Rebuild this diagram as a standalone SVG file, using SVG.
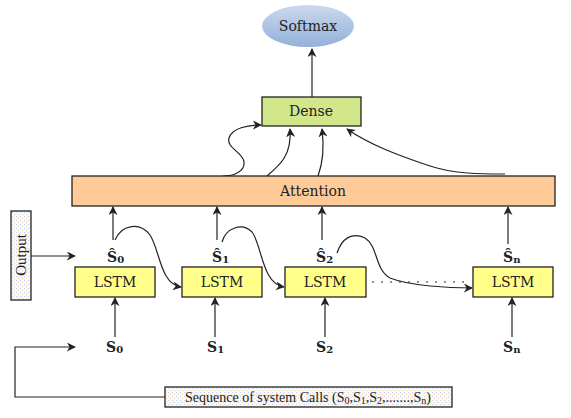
<svg xmlns="http://www.w3.org/2000/svg" width="571" height="418" viewBox="0 0 571 418">
<style>
  text { font-family: "DejaVu Serif", "Liberation Serif", serif; fill: #222; }
  .box { stroke: #222; stroke-width: 1.3; }
  .lbl { font-size: 14px; text-anchor: middle; }
  .sym { font-size: 14px; font-weight: bold; }
  .sub { font-size: 10px; }
  .conn { fill: none; stroke: #222; stroke-width: 1.2; }
  .arr { marker-end: url(#ah); }
</style>
<defs>
  <marker id="ah" viewBox="0 0 10 10" refX="9" refY="5" markerWidth="9" markerHeight="9" markerUnits="userSpaceOnUse" orient="auto">
    <path d="M0,0 L10,5 L0,10 L3,5 z" fill="#222"/>
  </marker>
  <linearGradient id="sg" x1="0" y1="0" x2="0" y2="1">
    <stop offset="0" stop-color="#cbd9ee"/>
    <stop offset="1" stop-color="#93b0d8"/>
  </linearGradient>
  <pattern id="dots" width="4" height="4" patternUnits="userSpaceOnUse">
    <rect width="4" height="4" fill="#f8f9fc"/>
    <rect x="0" y="0" width="1" height="1" fill="#c8d4e8"/>
    <rect x="2" y="2" width="1" height="1" fill="#f0d8b8"/>
  </pattern>
</defs>

<g id="connectors">
  <path class="conn arr" d="M312,97 L312,49"/>
  <path class="conn arr" d="M223,176 C233,176 245,172 244,162 C243,152 226,148 229,138 C232,128 248,125 261,125"/>
  <path class="conn arr" d="M267,176 C280,165 292,155 290,129"/>
  <path class="conn arr" d="M318,176 C324,160 324,145 322,129"/>
  <path class="conn arr" d="M505,174 C480,174 455,174 430,166 C400,156 370,145 347,129"/>
  <path class="conn arr" d="M113,240 L113,207"/>
  <path class="conn arr" d="M217,240 L217,207"/>
  <path class="conn arr" d="M322,240 L322,207"/>
  <path class="conn arr" d="M508,244 L508,207"/>
  <path class="conn arr" d="M115,240 C122,224 140,222 150,235 C160,250 160,284 181,287"/>
  <path class="conn arr" d="M222,242 C226,228 242,222 252,232 C262,245 262,284 284,287"/>
  <path class="conn arr" d="M337,253 C342,238 352,232 365,238 C378,246 375,270 390,278 C410,286 450,288 472,288"/>
  <path class="conn" d="M372,282 L466,282" stroke-dasharray="2 7"/>
  <path class="conn arr" d="M115,337 L115,298"/>
  <path class="conn arr" d="M215,337 L215,298"/>
  <path class="conn arr" d="M325,337 L325,298"/>
  <path class="conn arr" d="M512,337 L512,298"/>
  <path class="conn arr" d="M31,256 L75,256"/>
  <path class="conn arr" d="M166,397 L15,397 L15,347 L75,347"/>
</g>

<g id="softmax">
  <ellipse cx="308" cy="26" rx="46" ry="21" fill="url(#sg)"/>
  <text class="lbl" x="308" y="31">Softmax</text>
</g>
<g id="dense">
  <rect class="box" x="262" y="97" width="99" height="29" fill="#d2e68c"/>
  <text class="lbl" x="311" y="116">Dense</text>
</g>
<g id="attention">
  <rect class="box" x="72" y="176" width="483" height="30" fill="#fdca98"/>
  <text class="lbl" x="313" y="196">Attention</text>
</g>
<g id="output">
  <rect class="box" x="11" y="211" width="20" height="89" fill="url(#dots)"/>
  <text x="0" y="0" transform="translate(26,255) rotate(-90)" text-anchor="middle" style="font-family:'Liberation Serif',serif;font-size:15px">Output</text>
</g>
<g id="lstm0">
  <rect class="box" x="75" y="267" width="80" height="30" fill="#ffff8a"/>
  <text class="lbl" x="115" y="287">LSTM</text>
</g>
<g id="lstm1">
  <rect class="box" x="182" y="267" width="80" height="30" fill="#ffff8a"/>
  <text class="lbl" x="222" y="287">LSTM</text>
</g>
<g id="lstm2">
  <rect class="box" x="285" y="267" width="81" height="30" fill="#ffff8a"/>
  <text class="lbl" x="325" y="287">LSTM</text>
</g>
<g id="lstmn">
  <rect class="box" x="473" y="267" width="80" height="30" fill="#ffff8a"/>
  <text class="lbl" x="513" y="287">LSTM</text>
</g>

<g id="shat-labels">
  <text class="sym" x="107" y="262">Ŝ<tspan class="sub" dy="1">0</tspan></text>
  <text class="sym" x="212" y="262">Ŝ<tspan class="sub" dy="1">1</tspan></text>
  <text class="sym" x="316" y="262">Ŝ<tspan class="sub" dy="1">2</tspan></text>
  <text class="sym" x="503" y="262">Ŝ<tspan class="sub" dy="1">n</tspan></text>
</g>
<g id="s-labels">
  <text class="sym" x="106" y="352">S<tspan class="sub" dy="1">0</tspan></text>
  <text class="sym" x="207" y="352">S<tspan class="sub" dy="1">1</tspan></text>
  <text class="sym" x="316" y="352">S<tspan class="sub" dy="1">2</tspan></text>
  <text class="sym" x="503" y="352">S<tspan class="sub" dy="1">n</tspan></text>
</g>

<g id="sequence">
  <rect class="box" x="165" y="387" width="287" height="20" fill="url(#dots)"/>
  <text x="308" y="402" text-anchor="middle" style="font-family:'Liberation Serif',serif;font-size:14px">Sequence of system Calls (S<tspan font-size="10" dy="2">0</tspan><tspan dy="-2">,S</tspan><tspan font-size="10" dy="2">1</tspan><tspan dy="-2">,S</tspan><tspan font-size="10" dy="2">2</tspan><tspan dy="-2">,.......,S</tspan><tspan font-size="10" dy="2">n</tspan><tspan dy="-2">)</tspan></text>
</g>
</svg>
